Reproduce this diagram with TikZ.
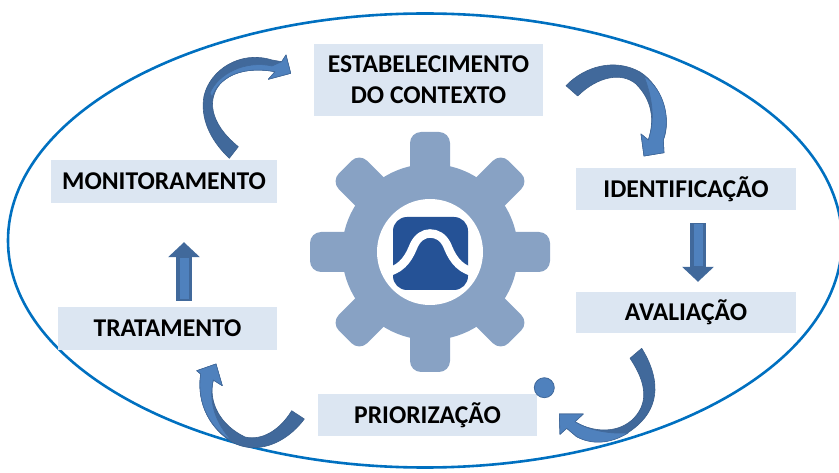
\documentclass[tikz,border=0pt]{standalone}
\usepackage{fontspec}
\setmainfont{Carlito}
\usetikzlibrary{arrows.meta}
\definecolor{caixa}{HTML}{DCE6F2}
\definecolor{engrenagem}{HTML}{88A2C4}
\definecolor{logo}{HTML}{255296}
\definecolor{setaescura}{HTML}{41699B}
\definecolor{setaclara}{HTML}{4F81BD}
\definecolor{elipse}{HTML}{0070C0}
\tikzset{
  etapa/.style={fill=caixa,inner sep=0pt,align=center,font=\fontsize{25.6}{31}\selectfont\bfseries},
  setafundo/.style={fill=setaescura,draw=setaescura!90!black,line width=.6pt,line join=round},
  setaluz/.style={fill=setaclara,draw=setaescura,line width=.6pt,line join=round},
  setareta/.style={setaescura,line width=16pt,-{Triangle[width=31pt,length=15pt]}},
  setareta luz/.style={setaclara,line width=9pt},
}
\begin{document}
\begin{tikzpicture}[x=1pt,y=-1pt]
 \useasboundingbox (0,0) rectangle (839,473);
 \clip (0,0) rectangle (839,473);
 \draw[elipse,line width=2.6pt] (425,240.5) ellipse (417 and 227);
 % engrenagem
 \fill[engrenagem] (430,252) circle (88);
 \foreach \ang in {0,45,...,315}
   \fill[engrenagem,rounded corners=11pt,rotate around={\ang:(430,252)}] (410,132) rectangle (450,200);
 \fill[white] (430,252) circle (53);
 \fill[logo,rounded corners=14pt] (393,217) rectangle (468,290);
 \draw[white,line width=8.5pt] (388,272) .. controls (404,268) and (410,255) .. (414,245) .. controls (418,237) and (424,233.5) .. (430,233.5) .. controls (437,233.5) and (443,237) .. (447,245) .. controls (451,255) and (457,268) .. (473,272);
 % etapas
 \node[etapa,minimum width=229pt,minimum height=72pt] (contexto) at (428.5,80) {ESTABELECIMENTO\\DO CONTEXTO};
 \node[etapa,minimum width=220pt,minimum height=42pt] (identificacao) at (686,189) {IDENTIFICAÇÃO};
 \node[etapa,minimum width=220pt,minimum height=41pt] (avaliacao) at (686,312.5) {AVALIAÇÃO};
 \node[etapa,minimum width=219pt,minimum height=42pt] (priorizacao) at (427.5,415) {PRIORIZAÇÃO};
 \node[etapa,minimum width=219pt,minimum height=43pt] (tratamento) at (167.5,328.5) {TRATAMENTO};
 \node[etapa,minimum width=226pt,minimum height=43pt] (monitoramento) at (164,181.5) {MONITORAMENTO};
 % setas retas
 \draw[setareta,shorten <=13pt,shorten >=10pt] ([xshift=12pt]identificacao.south) -- ([xshift=12pt]avaliacao.north);
 \draw[setareta luz,shorten <=14pt,shorten >=26pt] ([xshift=12pt]identificacao.south) -- ([xshift=12pt]avaliacao.north);
 \draw[setareta,shorten <=6pt,shorten >=39pt] ([xshift=16.5pt]tratamento.north) -- ([xshift=20pt]monitoramento.south);
 \draw[setareta luz,shorten <=8pt,shorten >=55pt] ([xshift=16.5pt]tratamento.north) -- ([xshift=20pt]monitoramento.south);
 % setas curvas
 \draw[setafundo] (229.3,158.3) .. controls (210,140) and (200,118) .. (204,96) .. controls (210,70) and (240,50) .. (272,60)
   -- (281.7,61.7) -- (286,55) -- (290.7,73.3) -- (268.3,79.3) -- (275,71.7)
   .. controls (255,68) and (233,70) .. (220,84) .. controls (208,98) and (208,122) .. (238.3,146.7) -- cycle;
 \draw[setaluz] (210,93) .. controls (218,74) and (245,60) .. (272,66)
   -- (281.7,61.7) -- (286,55) -- (290.7,73.3) -- (268.3,79.3) -- (275,71.7)
   .. controls (255,68) and (233,70) .. (220,84) .. controls (216,88) and (214,92) .. (212,97) -- cycle;
 \draw[setafundo] (566,85.7) .. controls (585,66) and (615,58) .. (640,72) .. controls (662,86) and (672,118) .. (663.3,140)
   -- (664,152.7) -- (644,156) -- (641,134) -- (648.3,140)
   .. controls (655,120) and (652,100) .. (636,84) .. controls (622,72) and (598,76) .. (577.7,96) -- cycle;
 \draw[setaluz] (644,76) .. controls (664,90) and (671,118) .. (663.3,140)
   -- (664,152.7) -- (644,156) -- (641,134) -- (648.3,140)
   .. controls (655,120) and (653,100) .. (644,76) -- cycle;
 \draw[setafundo] (641.7,348.3) .. controls (660,378) and (660,405) .. (638,425) .. controls (618,443) and (595,446) .. (576.7,436.7)
   -- (566.7,428.3) -- (560,434.3) -- (559.3,414) -- (583.3,414) -- (575,421.7)
   .. controls (590,431) and (615,435) .. (632,420) .. controls (648,405) and (648,385) .. (630,358.3) -- cycle;
 \draw[setaluz] (628,433) .. controls (610,444) and (592,445) .. (576.7,436.7)
   -- (566.7,428.3) -- (560,434.3) -- (559.3,414) -- (583.3,414) -- (575,421.7)
   .. controls (590,431) and (610,434) .. (628,433) -- cycle;
 \draw[setafundo] (304.3,419) .. controls (285,445) and (255,455) .. (232,442) .. controls (212,430) and (196,405) .. (200.7,374)
   -- (196.7,370.7) -- (216,364) -- (222.3,385.7) -- (213.3,380)
   .. controls (208,402) and (220,425) .. (245,437) .. controls (262,441) and (280,430) .. (291.7,410.7) -- cycle;
 \draw[setaluz] (232,441) .. controls (212,430) and (196,405) .. (200.7,374)
   -- (196.7,370.7) -- (216,364) -- (222.3,385.7) -- (213.3,380)
   .. controls (208,402) and (216,424) .. (232,441) -- cycle;
 % ponto
 \fill[setaclara,draw=setaescura,line width=.8pt] (544.3,387.7) circle (10);
\end{tikzpicture}
\end{document}
